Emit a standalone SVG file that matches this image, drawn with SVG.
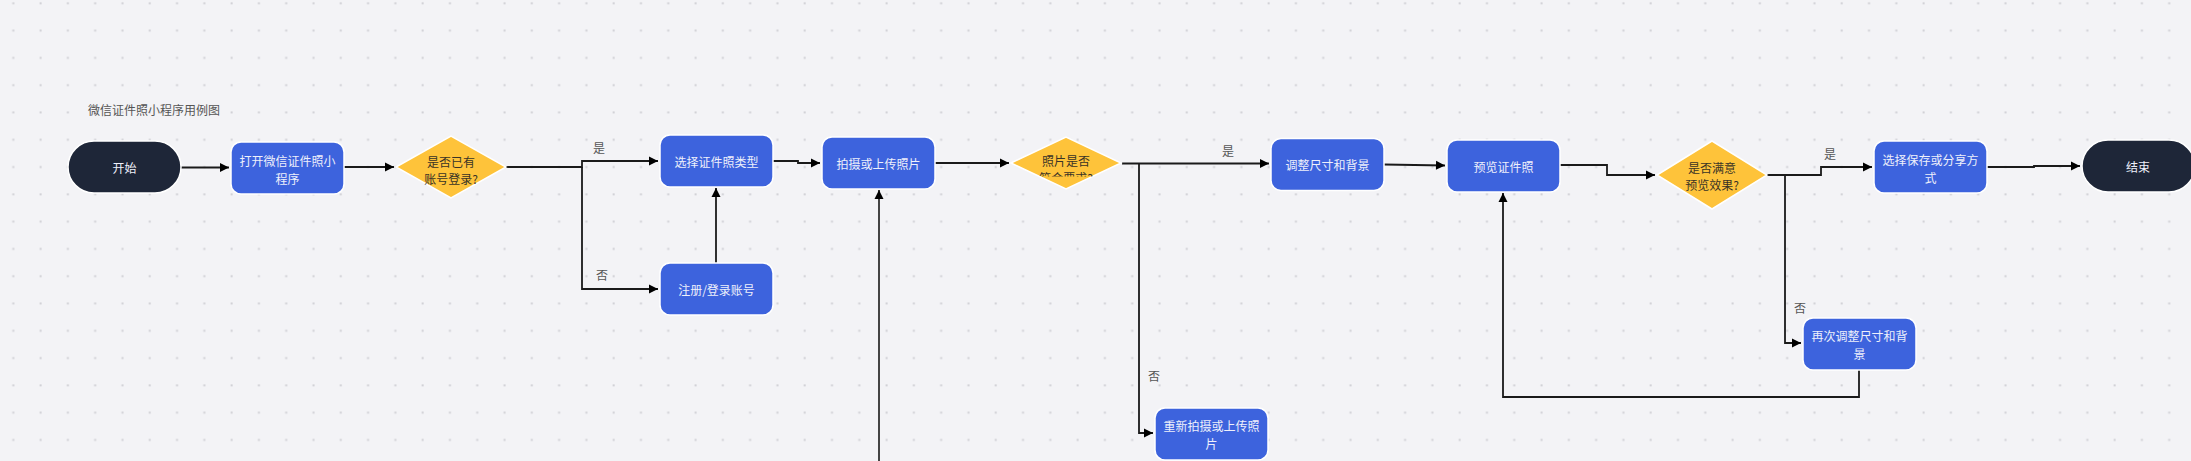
<svg xmlns="http://www.w3.org/2000/svg" width="2191" height="461" viewBox="0 0 2191 461">
<style>
.bg{fill:#f3f3f6}
.proc{fill:#3d63dd;stroke:#ffffff;stroke-width:1.5}
.term{fill:#1e2638;stroke:#ffffff;stroke-width:1.5}
.dec{fill:#fec33a;stroke:#ffffff;stroke-width:1.5}
.t{font-family:"Noto Sans CJK SC","Noto Sans",sans-serif;font-size:12px;text-anchor:middle;dominant-baseline:central}
.tw{fill:#eef0fb}
.td{fill:#3a3326}
.lbl{font-family:"Noto Sans CJK SC","Noto Sans",sans-serif;font-size:12px;fill:#555555;text-anchor:middle;dominant-baseline:central}
.ttl{font-family:"Noto Sans CJK SC","Noto Sans",sans-serif;font-size:12px;fill:#555555;dominant-baseline:central}
.c{fill:none;stroke:#1a1a1a;stroke-width:1.8}
.c2{fill:none;stroke:#444444;stroke-width:2}
</style>
<defs>
<pattern id="dots" patternUnits="userSpaceOnUse" x="0" y="0" width="27.29" height="27.29">
<rect x="12.3" y="2.3" width="2" height="2" fill="#d0d0d5"/>
</pattern>
<marker id="arr" markerUnits="userSpaceOnUse" markerWidth="12" markerHeight="12" refX="10" refY="6" orient="auto">
<path d="M1,1.5 L10,6 L1,10.5 Z" fill="#000000"/>
</marker>
<clipPath id="d2clip"><rect x="1011" y="137" width="110" height="39.5"/></clipPath>
</defs>
<rect class="bg" x="0" y="0" width="2191" height="461"/>
<rect x="0" y="0" width="2191" height="461" fill="url(#dots)"/>
<text class="ttl" x="88" y="109">微信证件照小程序用例图</text>

<g id="connectors">
<path class="c" d="M181,167.5 L229,167.5" marker-end="url(#arr)"/>
<path class="c" d="M344,167 L394,167" marker-end="url(#arr)"/>
<path class="c" d="M506,167 L582,167 L582,161 L658,161" marker-end="url(#arr)"/>
<path class="c" d="M582,167 L582,289 L658,289" marker-end="url(#arr)"/>
<path class="c" d="M716,263 L716,188" marker-end="url(#arr)"/>
<path class="c" d="M773,161 L798,161 L798,163 L820,163" marker-end="url(#arr)"/>
<path class="c" d="M935,163 L1009,163" marker-end="url(#arr)"/>
<path class="c" d="M1122,163.5 L1269,163.5" marker-end="url(#arr)"/>
<path class="c" d="M1139,163.5 L1139,433 L1153,433" marker-end="url(#arr)"/>
<path class="c2" d="M879,475 L879,190" marker-end="url(#arr)"/>
<path class="c" d="M1384,164.5 L1445,165.5" marker-end="url(#arr)"/>
<path class="c" d="M1560,165 L1607,165 L1607,175 L1655,175" marker-end="url(#arr)"/>
<path class="c" d="M1767,175 L1821,175 L1821,167 L1872,167" marker-end="url(#arr)"/>
<path class="c" d="M1785,175 L1785,343 L1801,343" marker-end="url(#arr)"/>
<path class="c" d="M1859,370 L1859,397 L1503,397 L1503,193" marker-end="url(#arr)"/>
<path class="c" d="M1987,167 L2034,167 L2034,166 L2080,166" marker-end="url(#arr)"/>
<text class="lbl" x="599" y="147">是</text>
<text class="lbl" x="602" y="274">否</text>
<text class="lbl" x="1228" y="150">是</text>
<text class="lbl" x="1154" y="375">否</text>
<text class="lbl" x="1830" y="153">是</text>
<text class="lbl" x="1800" y="307">否</text>
</g>

<g id="start">
<rect class="term" x="68" y="141" width="113" height="52" rx="26"/>
<text class="t tw" x="124.5" y="167.5">开始</text>
</g>
<g id="open">
<rect class="proc" x="231" y="142" width="113" height="52" rx="10"/>
<text class="t tw" x="287.5" y="160">打开微信证件照小</text>
<text class="t tw" x="287.5" y="178">程序</text>
</g>
<g id="hasAccount">
<polygon class="dec" points="396,167 451,136 506,167 451,198"/>
<text class="t td" x="451" y="161">是否已有</text>
<text class="t td" x="451" y="178">账号登录?</text>
</g>
<g id="selectType">
<rect class="proc" x="660" y="135" width="113" height="52" rx="10"/>
<text class="t tw" x="716.5" y="161">选择证件照类型</text>
</g>
<g id="register">
<rect class="proc" x="660" y="263" width="113" height="52" rx="10"/>
<text class="t tw" x="716.5" y="289">注册/登录账号</text>
</g>
<g id="shoot">
<rect class="proc" x="822" y="137" width="113" height="52" rx="10"/>
<text class="t tw" x="878.5" y="163">拍摄或上传照片</text>
</g>
<g id="photoOk">
<polygon class="dec" points="1011,163 1066,137 1121,163 1066,189"/>
<g clip-path="url(#d2clip)">
<text class="t td" x="1066" y="160.5">照片是否</text>
<text class="t td" x="1066" y="177.5">符合要求?</text>
</g>
</g>
<g id="adjust">
<rect class="proc" x="1271" y="138.5" width="113" height="52" rx="10"/>
<text class="t tw" x="1327.5" y="164.5">调整尺寸和背景</text>
</g>
<g id="preview">
<rect class="proc" x="1447" y="140" width="113" height="52" rx="10"/>
<text class="t tw" x="1503.5" y="166">预览证件照</text>
</g>
<g id="satisfied">
<polygon class="dec" points="1657,175 1712,141 1767,175 1712,209"/>
<text class="t td" x="1712" y="167.5">是否满意</text>
<text class="t td" x="1712" y="184">预览效果?</text>
</g>
<g id="save">
<rect class="proc" x="1874" y="141" width="113" height="52" rx="10"/>
<text class="t tw" x="1930.5" y="159">选择保存或分享方</text>
<text class="t tw" x="1930.5" y="177">式</text>
</g>
<g id="end">
<rect class="term" x="2082" y="140" width="113" height="52" rx="26"/>
<text class="t tw" x="2138" y="166">结束</text>
</g>
<g id="readjust">
<rect class="proc" x="1803" y="318" width="113" height="52" rx="10"/>
<text class="t tw" x="1859.5" y="335">再次调整尺寸和背</text>
<text class="t tw" x="1859.5" y="353">景</text>
</g>
<g id="reshoot">
<rect class="proc" x="1155" y="408" width="113" height="52" rx="10"/>
<text class="t tw" x="1211.5" y="425">重新拍摄或上传照</text>
<text class="t tw" x="1211.5" y="443">片</text>
</g>
</svg>
